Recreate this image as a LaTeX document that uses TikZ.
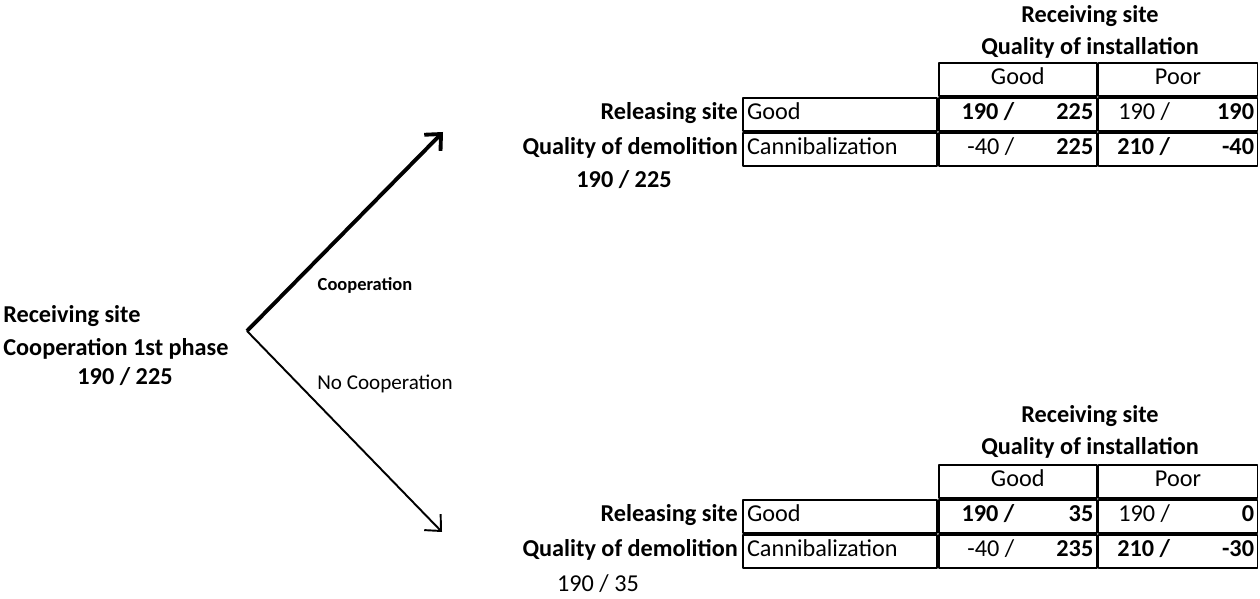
\documentclass[tikz,border=0pt]{standalone}
\usepackage{fontspec}
\setmainfont{Carlito}
\usetikzlibrary{arrows.meta,positioning,calc}

\begin{document}
\begin{tikzpicture}[>={Straight Barb[length=7pt,width=13pt]}, line join=round]
	\tikzstyle{every node}=[inner sep=0pt, text height=1.6ex, text depth=.45ex]
	\tikzstyle{txt}=[font=\fontsize{13.8}{16}\selectfont]
	\tikzstyle{txtb}=[font=\fontsize{13.8}{16}\selectfont\bfseries]
	\tikzstyle{cell}=[draw, line width=1pt, minimum height=0.66cm, inner xsep=0.08cm]
	\tikzstyle{first}=[cell, text width=3.72cm, align=left, font=\fontsize{13.8}{16}\selectfont]
	\useasboundingbox (0,0) rectangle (25.2,11.98);
	
	% first phase
	\node[txtb, anchor=west] (R)  at (0.06,5.62) {Receiving site};
	\node[txtb, anchor=west] (RC) at (0.06,4.96) {Cooperation 1st phase};
	\node[txtb]              (RV) at (2.50,4.38) {190 / 225};
	
	\coordinate (root) at (4.94,5.36);
	\coordinate (up)   at (8.86,9.34);
	\coordinate (down) at (8.84,1.34);
	
	\draw[->, line width=2.2pt] (root) -- (up);
	\draw[->, line width=1.1pt] (root) -- (down);
	\node[font=\fontsize{10.5}{12}\selectfont\bfseries] (coop)   at (7.30,6.26) {Cooperation};
	\node[font=\fontsize{12}{14}\selectfont]            (nocoop) at (7.70,4.28) {No Cooperation};
	
	% table after cooperation
	\node[first]                        (Tg)  at (16.80,9.69) {Good};
	\node[cell, minimum width=3.16cm]   (T1g) [right=0pt of Tg]  {};
	\node[cell, minimum width=3.18cm]   (T2g) [right=0pt of T1g] {};
	\node[first]                        (Tc)  [below=0pt of Tg]  {Cannibalization};
	\node[cell, minimum width=3.16cm]   (T1c) [below=0pt of T1g] {};
	\node[cell, minimum width=3.18cm]   (T2c) [below=0pt of T2g] {};
	\node[cell, txt, minimum width=3.16cm] (TH1) [above=0pt of T1g] {Good};
	\node[cell, txt, minimum width=3.18cm] (TH2) [above=0pt of T2g] {Poor};
	
	\node[txtb] (TR) at (21.80,11.62) {Receiving site};
	\node[txtb] (TQ) at (21.80,10.98) {Quality of installation};
	\node[txtb] (TL1) [left=0.08cm of Tg] {Releasing site};
	\node[txtb] (TL2) [left=0.08cm of Tc] {Quality of demolition};
	\node[txtb] (TV)  at (12.48,8.32) {190 / 225};
	
	\node[txtb] (T1ga) [left=1.66cm of T1g.east] {190 /};
	\node[txtb] (T1gb) [left=0.08cm of T1g.east] {225};
	\node[txt]  (T2ga) [left=1.76cm of T2g.east] {190 /};
	\node[txtb] (T2gb) [left=0.08cm of T2g.east] {190};
	\node[txt]  (T1ca) [left=1.66cm of T1c.east] {-40 /};
	\node[txtb] (T1cb) [left=0.08cm of T1c.east] {225};
	\node[txtb] (T2ca) [left=1.76cm of T2c.east] {210 /};
	\node[txtb] (T2cb) [left=0.08cm of T2c.east] {-40};
	
	% table after no cooperation
	\node[first]                        (Bg)  at (16.80,1.65) {Good};
	\node[cell, minimum width=3.16cm]   (B1g) [right=0pt of Bg]  {};
	\node[cell, minimum width=3.18cm]   (B2g) [right=0pt of B1g] {};
	\node[first]                        (Bc)  [below=0pt of Bg]  {Cannibalization};
	\node[cell, minimum width=3.16cm]   (B1c) [below=0pt of B1g] {};
	\node[cell, minimum width=3.18cm]   (B2c) [below=0pt of B2g] {};
	\node[cell, txt, minimum width=3.16cm] (BH1) [above=0pt of B1g] {Good};
	\node[cell, txt, minimum width=3.18cm] (BH2) [above=0pt of B2g] {Poor};
	
	\node[txtb] (BR) at (21.80,3.62) {Receiving site};
	\node[txtb] (BQ) at (21.80,2.98) {Quality of installation};
	\node[txtb] (BL1) [left=0.08cm of Bg] {Releasing site};
	\node[txtb] (BL2) [left=0.08cm of Bc] {Quality of demolition};
	\node[txt]  (BV)  at (11.96,0.24) {190 / 35};
	
	\node[txtb] (B1ga) [left=1.66cm of B1g.east] {190 /};
	\node[txtb] (B1gb) [left=0.08cm of B1g.east] {35};
	\node[txt]  (B2ga) [left=1.76cm of B2g.east] {190 /};
	\node[txtb] (B2gb) [left=0.08cm of B2g.east] {0};
	\node[txt]  (B1ca) [left=1.66cm of B1c.east] {-40 /};
	\node[txtb] (B1cb) [left=0.08cm of B1c.east] {235};
	\node[txtb] (B2ca) [left=1.76cm of B2c.east] {210 /};
	\node[txtb] (B2cb) [left=0.08cm of B2c.east] {-30};
\end{tikzpicture}
\end{document}
